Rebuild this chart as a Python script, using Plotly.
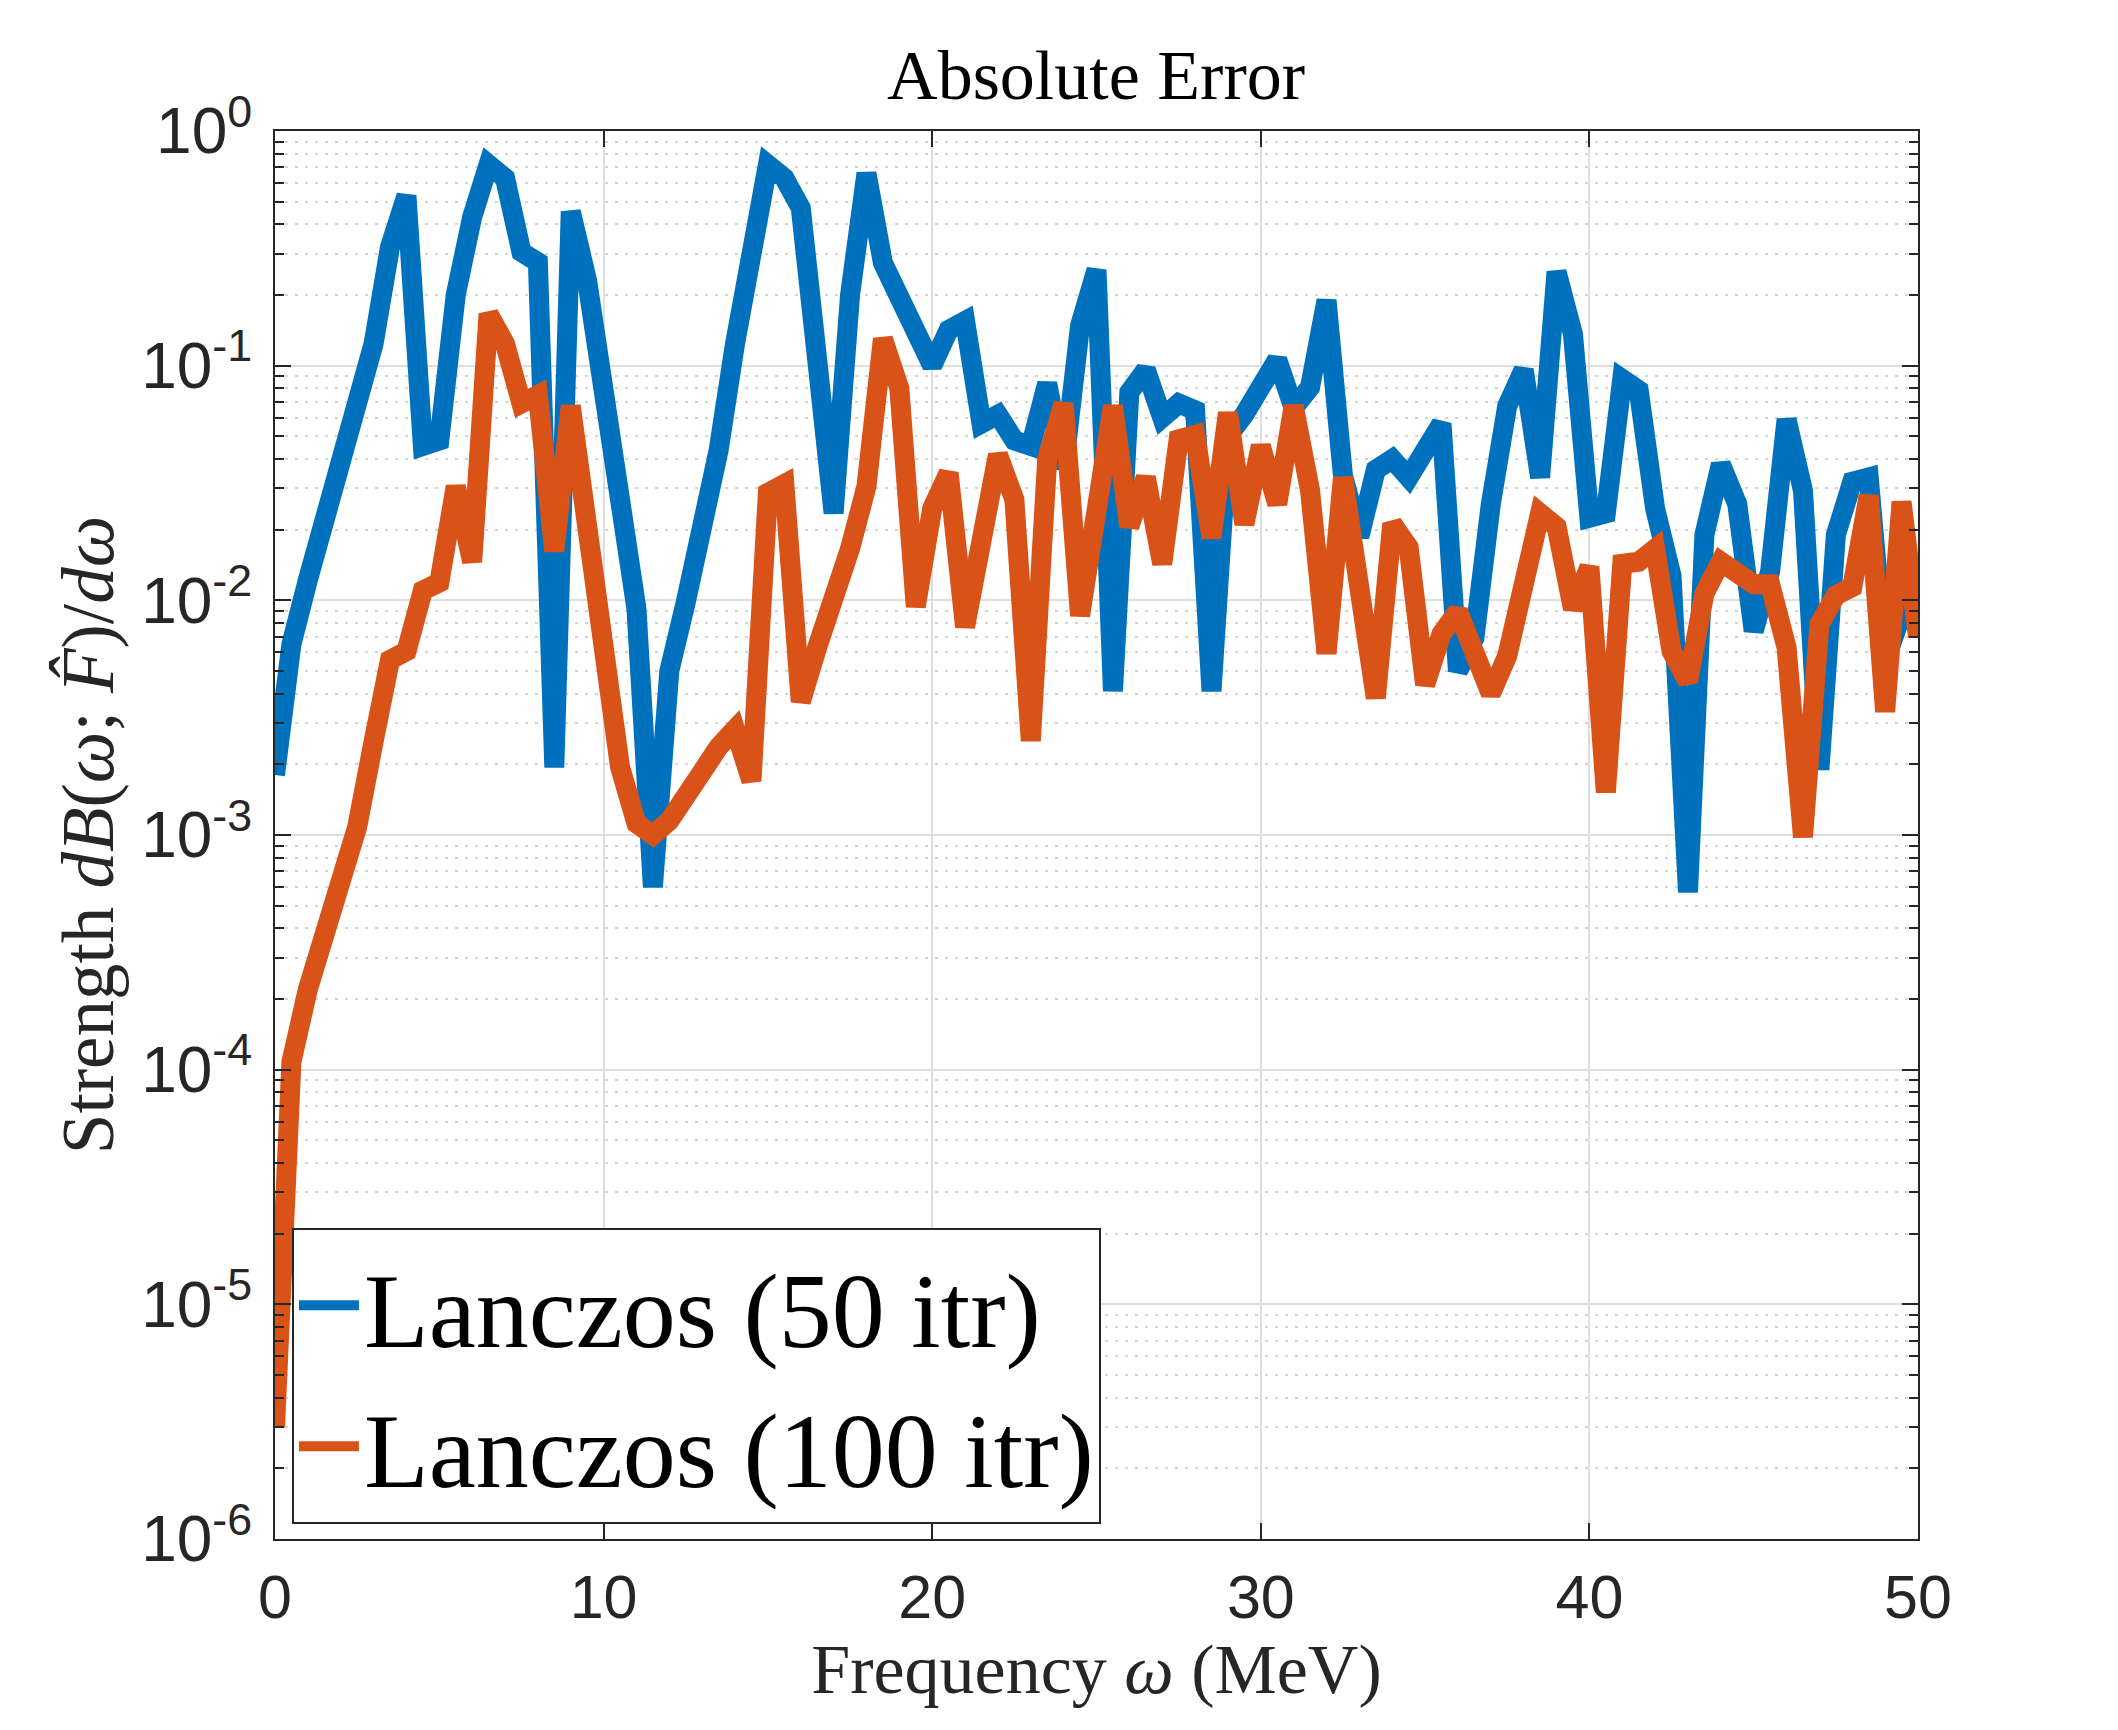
import numpy as np
import plotly.graph_objects as go

# Frequency grid (MeV), sampled every 0.5 MeV
freq = list(np.linspace(0, 50, 101))

# Absolute error, Lanczos 50 iterations
err_50 = [
    1.8e-3, 6.5e-3, 0.0122, 0.0216, 0.0334, 0.059, 0.124, 0.32, 0.53, 0.0455,
    0.048, 0.2, 0.43, 0.72, 0.63, 0.305, 0.276, 1.94e-3, 0.454, 0.23,
    0.072, 0.026, 9.2e-3, 6.0e-4, 5.0e-3, 0.0098, 0.0198, 0.0436, 0.124, 0.348,
    0.718, 0.63, 0.47, 0.106, 0.0235, 0.2, 0.66, 0.274, 0.193, 0.145,
    0.1, 0.142, 0.155, 0.0567, 0.0618, 0.048, 0.0455, 0.084, 0.0365, 0.148,
    0.256, 4.1e-3, 0.077, 0.096, 0.06, 0.069, 0.0645, 4.1e-3, 0.05, 0.062,
    0.084, 0.106, 0.066, 0.081, 0.19, 0.034, 0.0187, 0.036, 0.04, 0.0334,
    0.0435, 0.0566, 5.0e-3, 6.9e-3, 0.0257, 0.0674, 0.096, 0.0334, 0.251, 0.136,
    0.0225, 0.0235, 0.0877, 0.0786, 0.0246, 0.0127, 5.7e-4, 0.019, 0.038, 0.0257,
    7.4e-3, 0.0133, 0.059, 0.0293, 1.9e-3, 0.019, 0.032, 0.0334, 5.5e-3, 8.5e-3,
    0.0139,
]

# Absolute error, Lanczos 100 iterations
err_100 = [
    3.0e-6, 1.08e-4, 2.2e-4, 3.7e-4, 6.2e-4, 1.08e-3, 2.5e-3, 5.57e-3, 6.07e-3, 0.011,
    0.0119, 0.0306, 0.0146, 0.166, 0.124, 0.069, 0.075, 0.0162, 0.0674, 0.0216,
    5.1e-3, 1.95e-3, 1.12e-3, 1.0e-3, 1.15e-3, 1.42e-3, 1.86e-3, 2.37e-3, 2.82e-3, 1.7e-3,
    0.0287, 0.0313, 3.7e-3, 6.3e-3, 9.8e-3, 0.0166, 0.0306, 0.13, 0.08, 9.4e-3,
    0.0246, 0.0349, 7.7e-3, 0.0189, 0.0417, 0.0269, 2.52e-3, 0.04, 0.069, 8.6e-3,
    0.0246, 0.0674, 0.0206, 0.0334, 0.0143, 0.0485, 0.0507, 0.0185, 0.063, 0.0211,
    0.0455, 0.0257, 0.0674, 0.0293, 5.93e-3, 0.0334, 0.0113, 3.83e-3, 0.0212, 0.0168,
    4.37e-3, 7.2e-3, 9.0e-3, 6.07e-3, 4.0e-3, 5.8e-3, 0.0112, 0.0235, 0.0206, 9.2e-3,
    0.0139, 1.52e-3, 0.0143, 0.0146, 0.0166, 6.07e-3, 4.5e-3, 0.0107, 0.0146, 0.013,
    0.0117, 0.0117, 6.3e-3, 9.8e-4, 7.9e-3, 0.0105, 0.0114, 0.028, 3.35e-3, 0.0263,
    7.0e-3,
]

series_names = ["Lanczos (50 itr)", "Lanczos (100 itr)"]
series_colors = ["#0072BD", "#D95319"]

y_tickvals = [1e-6, 1e-5, 1e-4, 1e-3, 1e-2, 1e-1, 1e0]
y_ticktext = ["10<sup>-6</sup>", "10<sup>-5</sup>", "10<sup>-4</sup>", "10<sup>-3</sup>",
              "10<sup>-2</sup>", "10<sup>-1</sup>", "10<sup>0</sup>"]
x_tickvals = [0, 10, 20, 30, 40, 50]
x_ticktext = ["0", "10", "20", "30", "40", "50"]

SERIF = "Liberation Serif, Times New Roman, serif"
SANS = "Liberation Sans, Arial, Helvetica, sans-serif"
AXC = "#262626"

fig = go.Figure()
for name, vals, col in zip(series_names, [err_50, err_100], series_colors):
    fig.add_trace(go.Scatter(x=freq, y=vals, mode="lines", name=name,
                             line=dict(color=col, width=20)))

fig.update_layout(
    width=2118, height=1730,
    margin=dict(l=275, r=200, t=131, b=191),
    paper_bgcolor="white", plot_bgcolor="white",
    title=dict(text="Absolute Error", x=0.5175, xanchor="center",
               y=1 - 74 / 1730, yanchor="middle",
               font=dict(family=SERIF, size=70, color="black")),
    showlegend=True,
    legend=dict(x=0.0103, y=0.0107, xanchor="left", yanchor="bottom",
                bgcolor="white", bordercolor=AXC, borderwidth=2,
                font=dict(family=SERIF, size=106, color="black"),
                itemwidth=60, tracegroupgap=0),
)

fig.update_xaxes(
    range=[0, 50], tickvals=x_tickvals, ticktext=x_ticktext,
    showline=True, linecolor=AXC, linewidth=2, mirror="ticks",
    ticks="inside", ticklen=16, tickwidth=2, tickcolor=AXC,
    showgrid=True, gridcolor="#dedede", gridwidth=2,
    zeroline=False, automargin=False,
    tickfont=dict(family=SANS, size=61, color=AXC), ticklabelstandoff=4,
    title=dict(text="Frequency <i>ω</i> (MeV)", standoff=2,
               font=dict(family=SERIF, size=70, color=AXC)),
)

fig.update_yaxes(
    type="log", range=[-6, 0], tickvals=y_tickvals, ticktext=y_ticktext,
    showline=True, linecolor=AXC, linewidth=2, mirror="ticks",
    ticks="inside", ticklen=16, tickwidth=2, tickcolor=AXC,
    showgrid=True, gridcolor="#dedede", gridwidth=2,
    minor=dict(dtick="D1", ticks="inside", ticklen=9, tickwidth=2, tickcolor=AXC,
               showgrid=True, gridcolor="#d4d4d4", gridwidth=2, griddash="3px,7px"),
    zeroline=False, automargin=False,
    tickfont=dict(family=SANS, size=64, color=AXC), ticklabelstandoff=8,
    title=dict(text="Strength <i>dB</i>(<i>ω</i>; <i>F̂</i>)/<i>dω</i>", standoff=4,
               font=dict(family=SERIF, size=73, color=AXC)),
)

fig.write_html("out.html")
